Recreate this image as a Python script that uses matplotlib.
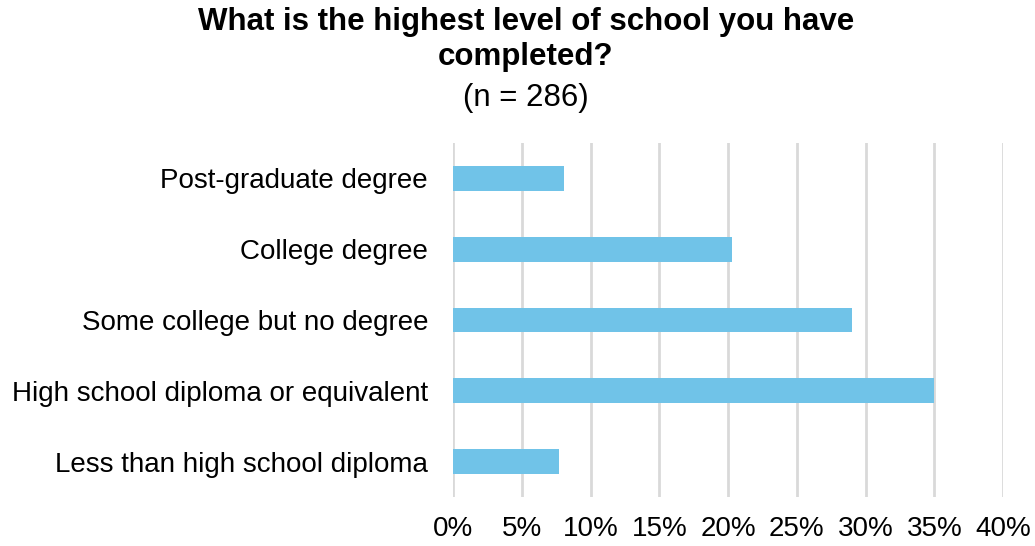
import matplotlib.pyplot as plt
from matplotlib.ticker import PercentFormatter

plt.rcParams['font.family'] = ['Liberation Sans', 'DejaVu Sans']

# Responses per highest level of school completed (n = 286)
levels = [
    "Less than high school diploma",
    "High school diploma or equivalent",
    "Some college but no degree",
    "College degree",
    "Post-graduate degree",
]
counts = [22, 100, 83, 58, 23]
n_total = 286
shares = [c / n_total * 100 for c in counts]

fig = plt.figure(figsize=(10.35, 5.46), dpi=100)
ax = fig.add_axes([0.4377, 0.0897, 0.5314, 0.6484])

ax.barh(range(len(levels)), shares, height=0.35, color="#70c3e8", zorder=3)

ax.set_xlim(0, 40)
ax.set_ylim(-0.5, 4.5)
ax.set_xticks(range(0, 41, 5))
ax.xaxis.set_major_formatter(PercentFormatter(decimals=0))
ax.set_yticks(range(len(levels)))
ax.set_yticklabels(levels)

ax.grid(axis="x", color="#d9d9d9", linewidth=2, zorder=0)
for side in ax.spines.values():
    side.set_visible(False)
ax.tick_params(axis="both", length=0, labelsize=20, colors="black")
ax.tick_params(axis="x", pad=14)
ax.tick_params(axis="y", pad=18)

fig.text(0.508, 0.960, "What is the highest level of school you have",
         ha="center", va="center", fontsize=22.5, fontweight="bold")
fig.text(0.508, 0.895, "completed?",
         ha="center", va="center", fontsize=22.5, fontweight="bold")
fig.text(0.508, 0.821, f"(n = {n_total})",
         ha="center", va="center", fontsize=22.5)

fig.savefig("out.png", dpi=100)
